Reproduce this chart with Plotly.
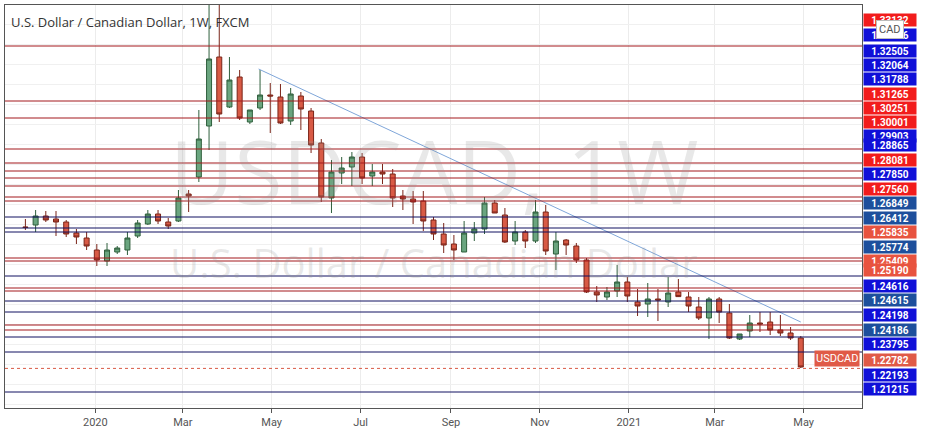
import pandas as pd
import plotly.graph_objects as go

# weekly USDCAD candles
week_start = "2019-11-14"
opens = [1.2985, 1.2995, 1.3040, 1.3025, 1.3010, 1.2955, 1.2930, 1.2870, 1.2815, 1.2860,
         1.2870, 1.2940, 1.3000, 1.3050, 1.3010, 1.3015, 1.3150, 1.3235, 1.3490, 1.3835,
         1.3585, 1.3735, 1.3510, 1.3580, 1.3645, 1.3635, 1.3515, 1.3640, 1.3565, 1.3405,
         1.3130, 1.3255, 1.3285, 1.3335, 1.3240, 1.3260, 1.3250, 1.3140, 1.3125, 1.3115,
         1.3020, 1.2950, 1.2900, 1.2860, 1.2955, 1.2975, 1.3105, 1.3045, 1.2915, 1.2960,
         1.2915, 1.3060, 1.2850, 1.2920, 1.2890, 1.2820, 1.2660, 1.2635, 1.2665, 1.2710,
         1.2610, 1.2600, 1.2625, 1.2610, 1.2660, 1.2635, 1.2585, 1.2530, 1.2625, 1.2555,
         1.2425, 1.2465, 1.2505, 1.2510, 1.2470, 1.2455, 1.2430]
highs = [1.3025, 1.3070, 1.3065, 1.3065, 1.3020, 1.2975, 1.2960, 1.2900, 1.2905, 1.2890,
         1.2960, 1.3020, 1.3070, 1.3070, 1.3030, 1.3170, 1.3170, 1.3570, 1.4095, 1.4105,
         1.3835, 1.3770, 1.3570, 1.3770, 1.3705, 1.3700, 1.3680, 1.3660, 1.3580, 1.3425,
         1.3320, 1.3335, 1.3360, 1.3355, 1.3300, 1.3300, 1.3275, 1.3170, 1.3165, 1.3165,
         1.3035, 1.3005, 1.2945, 1.3015, 1.3010, 1.3135, 1.3120, 1.3080, 1.3015, 1.2970,
         1.3120, 1.3095, 1.2960, 1.2925, 1.2905, 1.2830, 1.2690, 1.2685, 1.2795, 1.2735,
         1.2675, 1.2705, 1.2675, 1.2735, 1.2725, 1.2660, 1.2635, 1.2635, 1.2635, 1.2600,
         1.2450, 1.2545, 1.2560, 1.2560, 1.2545, 1.2485, 1.2440]
lows = [1.2970, 1.2960, 1.3010, 1.2940, 1.2935, 1.2900, 1.2870, 1.2790, 1.2790, 1.2850,
        1.2845, 1.2930, 1.2995, 1.3000, 1.2975, 1.3010, 1.3060, 1.3210, 1.3370, 1.3510,
        1.3580, 1.3520, 1.3500, 1.3570, 1.3455, 1.3500, 1.3495, 1.3470, 1.3355, 1.3110,
        1.3055, 1.3200, 1.3190, 1.3200, 1.3190, 1.3200, 1.3085, 1.3070, 1.3000, 1.2965,
        1.2920, 1.2855, 1.2820, 1.2860, 1.2915, 1.2950, 1.3055, 1.2905, 1.2895, 1.2880,
        1.2905, 1.2845, 1.2770, 1.2845, 1.2805, 1.2655, 1.2610, 1.2620, 1.2635, 1.2610,
        1.2540, 1.2535, 1.2515, 1.2585, 1.2635, 1.2560, 1.2520, 1.2425, 1.2505, 1.2425,
        1.2420, 1.2435, 1.2460, 1.2445, 1.2440, 1.2420, 1.2280]
closes = [1.2983, 1.3040, 1.3020, 1.3010, 1.2950, 1.2935, 1.2890, 1.2820, 1.2870, 1.2880,
          1.2930, 1.3005, 1.3050, 1.3015, 1.2990, 1.3130, 1.3140, 1.3425, 1.3825, 1.3550,
          1.3720, 1.3530, 1.3570, 1.3645, 1.3640, 1.3505, 1.3650, 1.3575, 1.3395, 1.3135,
          1.3260, 1.3280, 1.3335, 1.3230, 1.3260, 1.3250, 1.3130, 1.3125, 1.3110, 1.3015,
          1.2950, 1.2895, 1.2870, 1.2955, 1.2975, 1.3105, 1.3055, 1.2910, 1.2960, 1.2915,
          1.3060, 1.2865, 1.2915, 1.2895, 1.2820, 1.2660, 1.2645, 1.2660, 1.2710, 1.2640,
          1.2590, 1.2625, 1.2620, 1.2655, 1.2637, 1.2590, 1.2530, 1.2625, 1.2560, 1.2430,
          1.2450, 1.2505, 1.2500, 1.2470, 1.2455, 1.2430, 1.2285]
last_price = 1.2278

# horizontal support / resistance levels
red_levels = [1.3890, 1.3615, 1.3530, 1.3375, 1.3305, 1.3265, 1.3230, 1.3190, 1.3135, 1.3115,
              1.2830, 1.2815, 1.2680, 1.2665, 1.2495, 1.2470]
navy_levels = [1.3035, 1.2980, 1.2960, 1.2740, 1.2615, 1.2560, 1.2435, 1.2360, 1.2160]

trend_dates = ["2020-04-22", "2021-04-29"]
trend_prices = [1.3775, 1.2510]

# price tags on the right scale (text, colour), top to bottom
tag_texts = ["1.33132", "1.32706", "1.32505", "1.32064", "1.31788", "1.31265", "1.30251",
             "1.30001", "1.29903", "1.28865", "1.28081", "1.27850", "1.27560", "1.26849",
             "1.26412", "1.25835", "1.25774", "1.25409", "1.25190", "1.24616", "1.24615",
             "1.24198", "1.24186", "1.23795", "1.22782", "1.22193", "1.21215"]
tag_colors = ["#f21c1c", "#1010d8", "#1010d8", "#1010d8", "#1010d8", "#f21c1c", "#f21c1c",
              "#f21c1c", "#1010d8", "#1010d8", "#f21c1c", "#1010d8", "#f21c1c", "#1d4f9c",
              "#1d4f9c", "#e8533f", "#1d4f9c", "#e8533f", "#e8533f", "#1010d8", "#1d4f9c",
              "#1010d8", "#1d4f9c", "#1010d8", "#e05a47", "#1010d8", "#1010d8"]
tag_rows = [13, 28, 44, 58, 72, 87, 101, 115, 129, 145, 160, 174, 189, 203, 218, 232, 247,
            261, 277, 293, 307, 322, 337, 351, 367, 382, 396]

month_ticks = ["2020-01-01", "2020-03-01", "2020-05-01", "2020-07-01", "2020-09-01",
               "2020-11-01", "2021-01-01", "2021-03-01", "2021-05-01"]
month_labels = ["2020", "Mar", "May", "Jul", "Sep", "Nov", "2021", "Mar", "May"]

dates = pd.date_range(week_start, periods=len(opens), freq="7D")

fig = go.Figure()
fig.add_trace(go.Candlestick(
    x=dates, open=opens, high=highs, low=lows, close=closes,
    increasing=dict(fillcolor="#6aa57f", line=dict(color="#2f5f3c", width=1)),
    decreasing=dict(fillcolor="#d85a45", line=dict(color="#7a2418", width=1)),
    whiskerwidth=0, showlegend=False, hoverinfo="skip"))

for lv in red_levels:
    fig.add_hline(y=lv, line=dict(color="#a3181c", width=1), layer="above")
for lv in navy_levels:
    fig.add_hline(y=lv, line=dict(color="#101060", width=1), layer="above")

fig.add_trace(go.Scatter(x=trend_dates, y=trend_prices, mode="lines",
                         line=dict(color="#7fa6d9", width=1), showlegend=False))
fig.add_hline(y=last_price, line=dict(color="#d85a45", width=1, dash="dot"))

H = 403.0
for t, c, r in zip(tag_texts, tag_colors, tag_rows):
    fig.add_annotation(xref="paper", yref="paper", x=1.0, y=(408 - r) / H, xanchor="left",
                       text="<b>" + t + "</b>", showarrow=False, bgcolor=c,
                       font=dict(color="white", size=10, family="Roboto"),
                       width=52, height=12, borderpad=0, xshift=1)

fig.add_annotation(xref="paper", yref="paper", x=1.0, y=(408 - 367) / H, xanchor="right",
                   text="USDCAD", showarrow=False, bgcolor="#e05a47", xshift=-2,
                   font=dict(color="white", size=11, family="Roboto"), height=13, borderpad=1)
fig.add_annotation(xref="paper", yref="paper", x=1.0, y=(408 - 20) / H, xanchor="left",
                   text="CAD", showarrow=False, bgcolor="white", bordercolor="#bbbbbb",
                   font=dict(color="#555", size=11, family="Roboto"), xshift=14, borderpad=2)

# title and watermark
fig.add_annotation(xref="paper", yref="paper", x=0.005, y=0.985, xanchor="left", yanchor="top",
                   text="U.S. Dollar / Canadian Dollar, 1W, FXCM", showarrow=False,
                   font=dict(color="#333", size=13, family="Open Sans"))
fig.add_annotation(xref="paper", yref="paper", x=0.5, y=0.59, text="USDCAD, 1W", showarrow=False,
                   font=dict(color="rgba(150,150,150,0.22)", size=88, family="Open Sans"))
fig.add_annotation(xref="paper", yref="paper", x=0.5, y=0.36, text="U.S. Dollar / Canadian Dollar",
                   showarrow=False,
                   font=dict(color="rgba(150,150,150,0.22)", size=40, family="Open Sans"))

fig.update_layout(
    width=926, height=439, margin=dict(l=5, r=64, t=5, b=31),
    paper_bgcolor="white", plot_bgcolor="white",
    xaxis=dict(range=["2019-10-31", "2021-06-10"], rangeslider=dict(visible=False),
               tickvals=month_ticks, ticktext=month_labels, showgrid=True, gridcolor="#ececec",
               tickfont=dict(color="#555", size=11, family="Roboto"),
               showline=True, linecolor="#555", mirror=True, ticks="outside",
               ticklen=4, tickcolor="#555"),
    yaxis=dict(range=[1.208, 1.4095], showticklabels=False, showgrid=True,
               gridcolor="#f0f0f0", dtick=0.01, showline=True, linecolor="#555", mirror=True,
               zeroline=False),
)
fig.write_html("out.html", config={"displayModeBar": False},
               post_script="document.body.style.margin='0';")
